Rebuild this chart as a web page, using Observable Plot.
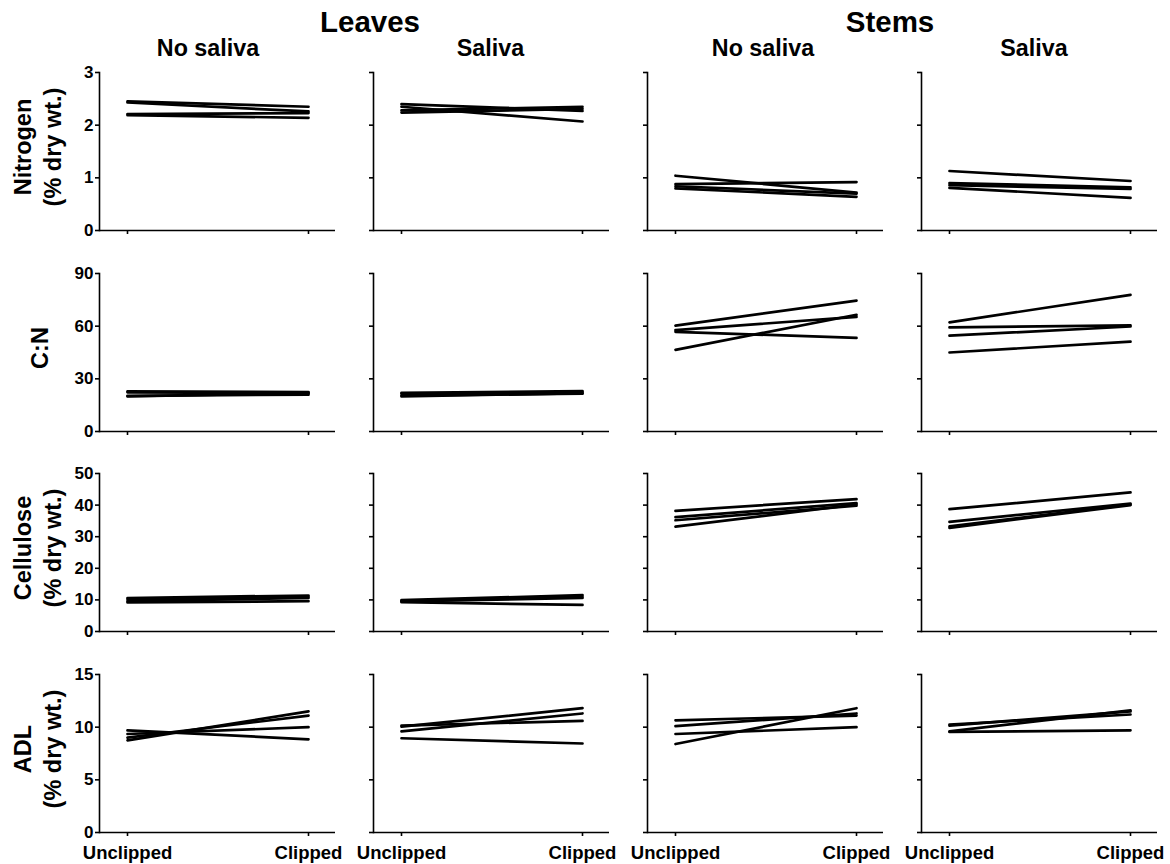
<!DOCTYPE html>
<html><head><meta charset="utf-8">
<script src="https://cdn.jsdelivr.net/npm/d3@7"></script>
<script src="https://cdn.jsdelivr.net/npm/@observablehq/plot@0.6"></script>
<style>
body{margin:0;background:#fff;}
#chart{position:relative;width:1170px;height:864px;font-family:"Liberation Sans",Arial,sans-serif;font-weight:bold;color:#000;overflow:hidden;}
.lbl{position:absolute;white-space:nowrap;line-height:1;transform:translateX(-50%);}
.ytitle{position:absolute;white-space:nowrap;text-align:center;line-height:30px;font-size:23.5px;transform:translate(-50%,-50%) rotate(-90deg);}
.panel{position:absolute;}
</style></head><body><div id="chart"></div>
<script>
// ---- categories ----
const conditions = ["Unclipped", "Clipped"];
const tissues = ["Leaves", "Stems"];
const treatments = ["No saliva", "Saliva"];
const measures = ["Nitrogen", "C:N", "Cellulose", "ADL"];
const measureUnits = ["(% dry wt.)", "", "(% dry wt.)", "(% dry wt.)"];

// ---- tick values ----
const nitrogenTicks = [0, 1, 2, 3];
const cnTicks = [0, 30, 60, 90];
const celluloseTicks = [0, 10, 20, 30, 40, 50];
const adlTicks = [0, 5, 10, 15];

// ---- values: each line is [Unclipped, Clipped] ----
const nitrogenLeavesNoSaliva = [[2.45, 2.35], [2.43, 2.26], [2.21, 2.23], [2.19, 2.14]];
const nitrogenLeavesSaliva   = [[2.40, 2.27], [2.35, 2.07], [2.28, 2.35], [2.24, 2.31]];
const nitrogenStemsNoSaliva  = [[1.04, 0.72], [0.88, 0.92], [0.84, 0.70], [0.80, 0.64]];
const nitrogenStemsSaliva    = [[1.13, 0.94], [0.90, 0.82], [0.86, 0.79], [0.81, 0.62]];

const cnLeavesNoSaliva = [[22.8, 22.5], [22.3, 21.8], [20.3, 21.0], [20.0, 22.0]];
const cnLeavesSaliva   = [[22.0, 23.0], [21.5, 22.2], [20.5, 21.5], [20.0, 21.8]];
const cnStemsNoSaliva  = [[60.3, 74.5], [57.8, 65.3], [56.8, 53.3], [46.5, 66.5]];
const cnStemsSaliva    = [[62.2, 77.8], [59.3, 60.4], [54.6, 59.8], [45.0, 51.2]];

const celluloseLeavesNoSaliva = [[10.6, 11.4], [10.2, 11.0], [9.6, 10.6], [9.2, 9.6]];
const celluloseLeavesSaliva   = [[9.9, 11.5], [9.7, 11.0], [9.5, 10.6], [9.3, 8.4]];
const celluloseStemsNoSaliva  = [[38.2, 41.9], [36.2, 40.6], [35.2, 39.8], [33.2, 40.2]];
const celluloseStemsSaliva    = [[38.7, 44.0], [34.7, 40.5], [33.3, 40.2], [32.8, 40.0]];

const adlLeavesNoSaliva = [[9.7, 8.85], [9.35, 10.0], [9.0, 11.1], [8.75, 11.5]];
const adlLeavesSaliva   = [[10.15, 10.6], [10.05, 11.8], [9.6, 11.3], [8.95, 8.45]];
const adlStemsNoSaliva  = [[10.65, 11.1], [10.1, 11.3], [9.35, 10.0], [8.4, 11.8]];
const adlStemsSaliva    = [[10.25, 11.2], [10.15, 11.5], [9.6, 11.6], [9.55, 9.7]];

const rowTicks = [nitrogenTicks, cnTicks, celluloseTicks, adlTicks];
const grid = [
  [nitrogenLeavesNoSaliva, nitrogenLeavesSaliva, nitrogenStemsNoSaliva, nitrogenStemsSaliva],
  [cnLeavesNoSaliva, cnLeavesSaliva, cnStemsNoSaliva, cnStemsSaliva],
  [celluloseLeavesNoSaliva, celluloseLeavesSaliva, celluloseStemsNoSaliva, celluloseStemsSaliva],
  [adlLeavesNoSaliva, adlLeavesSaliva, adlStemsNoSaliva, adlStemsSaliva]
];

// ---- layout ----
const FONT = '"Liberation Sans", Arial, sans-serif';
const colAxisX = [99, 373, 647, 921];
const rowTopY = [72, 272.7, 473.3, 674];
const PW = 236, PH = 158, ML = 40, MR = 10, MT = 8, MB = 34;
const AX = 1.6;

const chart = document.getElementById("chart");

function addLabel(text, cx, top, size) {
  const d = document.createElement("div");
  d.className = "lbl";
  d.textContent = text;
  d.style.left = cx + "px";
  d.style.top = top + "px";
  d.style.fontSize = size + "px";
  chart.appendChild(d);
}

// titles
const tissueCenters = [370, 890];
tissues.forEach((t, i) => addLabel(t, tissueCenters[i], 7, 29.5));
const treatCenters = [208, 490.5, 763, 1034];
treatCenters.forEach((cx, i) => addLabel(treatments[i % 2], cx, 37, 23.3));

// y titles
measures.forEach((m, r) => {
  const d = document.createElement("div");
  d.className = "ytitle";
  d.innerHTML = measureUnits[r] ? `${m}<br>${measureUnits[r]}` : m;
  d.style.left = (measureUnits[r] ? 38 : 40) + "px";
  d.style.top = (rowTopY[r] + PH / 2 - 4) + "px";
  chart.appendChild(d);
});

function panel(pairs, ticks, showY, showX) {
  const data = pairs.flatMap((p, i) => conditions.map((c, j) => ({id: i, cond: c, value: p[j]})));
  return Plot.plot({
    width: ML + PW + MR,
    height: MT + PH + MB,
    marginLeft: ML, marginRight: MR, marginTop: MT, marginBottom: MB,
    style: {fontFamily: FONT, fontWeight: "bold", color: "black", background: "transparent", overflow: "visible"},
    x: {type: "point", domain: conditions, padding: 0.15, label: null},
    y: {domain: [ticks[0], ticks[ticks.length - 1]], label: null},
    marks: [
      Plot.axisY({ticks, tickSize: 4, tickPadding: 2, tickFormat: showY ? (d => String(d)) : (() => ""), fontSize: 17, strokeWidth: AX, label: null}),
      Plot.axisX({tickSize: 4, tickPadding: 9, tickFormat: showX ? (d => d) : (() => ""), fontSize: 18.5, strokeWidth: AX, label: null}),
      Plot.frame({anchor: "left", strokeWidth: AX}),
      Plot.ruleY([ticks[0]], {strokeWidth: AX}),
      Plot.line(data, {x: "cond", y: "value", z: "id", stroke: "black", strokeWidth: 2.7})
    ]
  });
}

grid.forEach((row, r) => {
  row.forEach((pairs, c) => {
    const svg = panel(pairs, rowTicks[r], c === 0, r === 3);
    svg.classList.add("panel");
    svg.style.left = (colAxisX[c] - ML) + "px";
    svg.style.top = (rowTopY[r] - MT) + "px";
    chart.appendChild(svg);
  });
});
</script></body></html>
